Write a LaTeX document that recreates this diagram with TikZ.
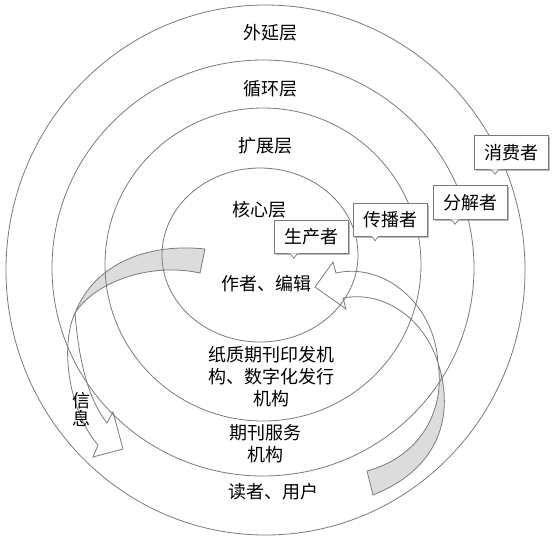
\documentclass[tikz,border=0pt]{standalone}
\usepackage{fontspec}
\newfontfamily\cjk{Noto Sans CJK SC}
\usetikzlibrary{shadows,calc}
\definecolor{linegray}{HTML}{7A7A7A}
\definecolor{ribbon}{HTML}{DCDCDC}
\begin{document}
\begin{tikzpicture}[x=1pt,y=-1pt,
  every node/.style={font=\cjk\fontsize{18}{22}\selectfont, inner sep=0pt, align=center},
  ring/.style={draw=linegray, line width=0.8pt},
  arrowfill/.style={fill=ribbon},
  arrowline/.style={draw=linegray, line width=0.8pt, line join=miter},
  rolebox/.style={rectangle, draw=linegray, fill=white, line width=0.7pt,
    minimum width=74pt, minimum height=33pt,
    drop shadow={shadow xshift=1.6pt, shadow yshift=-1.6pt, fill=black!45, opacity=0.6}},
  notch/.style={draw=linegray, fill=white, line width=0.7pt, line join=round}]
\useasboundingbox (0,0) rectangle (554,539);
% ribbon fills (under the rings)
\fill[arrowfill] (205,249) .. controls (150,243) and (95,262) .. (75,313)
  .. controls (95,282) and (150,262) .. (200,273) -- cycle;
\fill[arrowfill] (438,363) .. controls (452,405) and (448,465) .. (373,495)
  -- (367,471) .. controls (425,455) and (445,405) .. (438,363) -- cycle;
% rings
\draw[ring] (265.5,270) ellipse [x radius=259.5pt, y radius=265pt];
\draw[ring] (263,268) ellipse [x radius=211pt, y radius=208pt];
\draw[ring] (263,264.5) ellipse [x radius=158pt, y radius=156.5pt];
\draw[ring] (260,255) ellipse [x radius=98pt, y radius=87pt];
% left ribbon arrow (信息)
\draw[arrowline] (205,249) .. controls (150,243) and (95,262) .. (75,313)
  .. controls (95,282) and (150,262) .. (200,273) -- cycle;
\draw[arrowline] (75,313) .. controls (60,345) and (68,410) .. (98,445)
  -- (93,457) -- (123,449) -- (113,412) -- (107,423)
  .. controls (85,395) and (78,350) .. (75,313);
% right ribbon arrow (to 作者、编辑)
\draw[arrowline] (438,363) .. controls (452,405) and (448,465) .. (373,495)
  -- (367,471) .. controls (425,455) and (445,405) .. (438,363);
\draw[arrowline] (438,363) .. controls (435,305) and (385,262) .. (336,273)
  -- (333,262) -- (315,287) -- (346,309) -- (343,298)
  .. controls (385,290) and (425,320) .. (438,363);
% layer labels
\node (waiyan) at (270,33) {外延层};
\node (xunhuan) at (270,89) {循环层};
\node (kuozhan) at (265,146) {扩展层};
\node (hexin) at (259,210) {核心层};
\node (zuozhe) at (266,284) {作者、编辑};
\node (zhizhi) at (271,377) {纸质期刊印发机\\构、数字化发行\\机构};
\node (fuwu) at (265,444) {期刊服务\\机构};
\node (duzhe) at (273,492) {读者、用户};
\node[font=\cjk\fontsize{18}{18}\selectfont] (xinxi) at (81,409) {信\\息};
% role boxes
\node[rolebox] (prod) at (311,237) {生产者};
\node[rolebox] (chuanbo) at (390,219.5) {传播者};
\node[rolebox, minimum height=34pt] (fenjie) at (470,202.5) {分解者};
\node[rolebox, minimum height=34pt] (xiaofei) at (511.5,152.5) {消费者};
% small notches on the lower edges
\foreach \b/\f in {prod/0.27, chuanbo/0.30, fenjie/0.30, xiaofei/0.28}{
  \coordinate (\b-n) at ($(\b.south west)!\f!(\b.south east)$);
  \draw[notch] ($(\b-n)+(-6,-0.4)$) .. controls ($(\b-n)+(-3,0)$) .. ($(\b-n)+(0,4.5)$)
    .. controls ($(\b-n)+(3,0)$) .. ($(\b-n)+(6,-0.4)$);
}
\end{tikzpicture}
\end{document}
